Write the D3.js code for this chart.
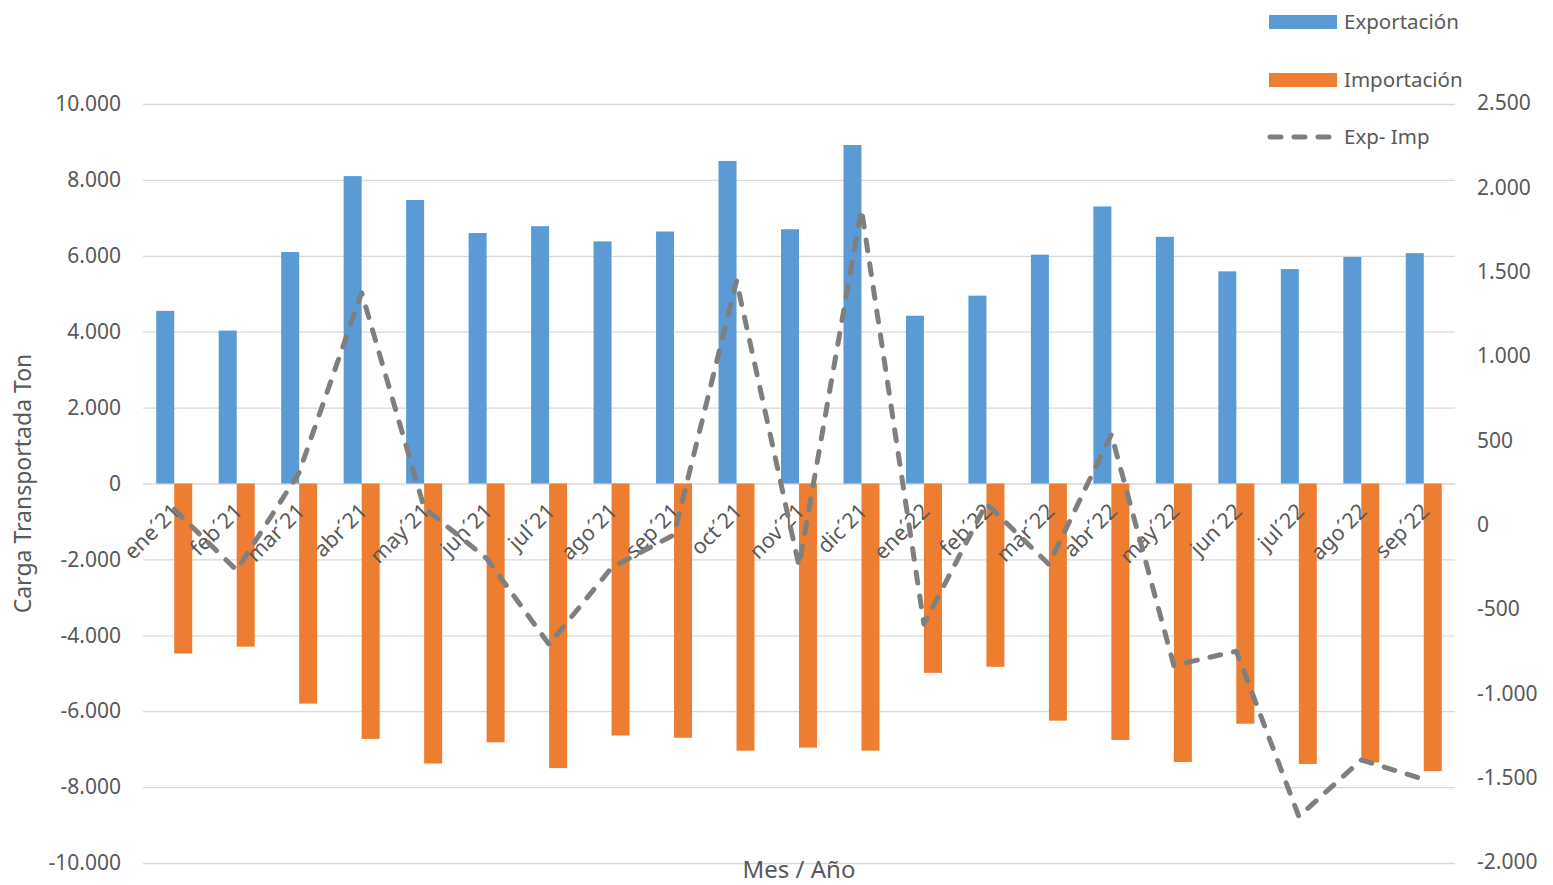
<!DOCTYPE html>
<html>
<head>
<meta charset="utf-8">
<script src="https://cdn.jsdelivr.net/npm/d3@7"></script>
<style>
    body { margin: 0; background: #fff; }
    svg { font-family: "Noto Sans", "Open Sans", sans-serif; }
</style>
</head>
<body>
<svg id="chart" width="1553" height="885"></svg>
<script>
// months on the category axis
let months = ["ene´21", "feb´21", "mar´21", "abr´21", "may´21", "jun´21", "jul´21", "ago´21", "sep´21",
    "oct´21", "nov´21", "dic´21", "ene´22", "feb´22", "mar´22", "abr´22", "may´22", "jun´22", "jul´22",
    "ago´22", "sep´22"];

// exportación (ton), left axis
let exportacion = [4550, 4030, 6100, 8100, 7470, 6600, 6780, 6380, 6640, 8500, 6700, 8920,
    4420, 4950, 6030, 7300, 6500, 5590, 5650, 5970, 6070];

// importación (ton), left axis
let importacion = [-4480, -4300, -5800, -6730, -7380, -6820, -7500, -6640, -6700, -7040, -6960, -7040,
    -4990, -4830, -6250, -6760, -7340, -6330, -7390, -7350, -7580];

// exp - imp, right axis
let expImp = [90, -270, 310, 1375, 100, -200, -710, -255, -60, 1445, -245, 1870,
    -590, 125, -235, 535, -835, -750, -1730, -1395, -1510];

let leftTicks = [-10000, -8000, -6000, -4000, -2000, 0, 2000, 4000, 6000, 8000, 10000];
let rightTicks = [-2000, -1500, -1000, -500, 0, 500, 1000, 1500, 2000, 2500];

let config = {
    width: 1553,
    height: 885,
    left: 143,
    right: 1455,
    top: 104,
    bottom: 863,
    blue: "#5b9bd5",
    orange: "#ed7d31",
    lineColor: "#7f7f7f",
    textColor: "#595959",
    gridColor: "#d9d9d9"
};

let svg = d3.select("#chart");

// es-style thousands, plain hyphen for negatives
let fmt = (v) => d3.format(",")(v).replace(/,/g, ".").replace("\u2212", "-");

let x0 = d3.scaleBand()
    .domain(months)
    .range([config.left, config.right])
    .paddingInner(0.424)
    .paddingOuter(0.212);

let x1 = d3.scaleBand()
    .domain(["exp", "imp"])
    .range([0, x0.bandwidth()]);

let yLeft = d3.scaleLinear()
    .domain([-10000, 10000])
    .range([config.bottom, config.top]);

let yRight = d3.scaleLinear()
    .domain([-2000, 2500])
    .range([config.bottom - 1, config.top - 1]);

// gridlines
let grid = d3.axisLeft(yLeft)
    .tickValues(leftTicks)
    .tickSize(-(config.right - config.left))
    .tickFormat("");

svg.append("g")
    .attr("transform", `translate(${config.left},0)`)
    .call(grid)
    .call((g) => g.select(".domain").remove())
    .call((g) => g.selectAll("line").attr("stroke", config.gridColor).attr("stroke-width", 1.3));

// left axis labels
svg.append("g")
    .attr("transform", `translate(${config.left},0)`)
    .call(d3.axisLeft(yLeft).tickValues(leftTicks).tickSize(0).tickPadding(22).tickFormat(fmt))
    .call((g) => g.select(".domain").remove())
    .call((g) => g.selectAll("text")
        .attr("fill", config.textColor)
        .style("font-size", "21px")
        .style("font-family", "Noto Sans"));

// right axis labels
svg.append("g")
    .attr("transform", `translate(${config.right},0)`)
    .call(d3.axisRight(yRight).tickValues(rightTicks).tickSize(0).tickPadding(22).tickFormat(fmt))
    .call((g) => g.select(".domain").remove())
    .call((g) => g.selectAll("text")
        .attr("fill", config.textColor)
        .style("font-size", "21px")
        .style("font-family", "Noto Sans"));

// bars
let groups = svg.append("g")
    .selectAll("g")
    .data(months)
    .enter().append("g")
    .attr("transform", (d) => `translate(${x0(d)},0)`);

groups.append("rect")
    .attr("x", x1("exp"))
    .attr("width", x1.bandwidth())
    .attr("y", (d, i) => yLeft(exportacion[i]))
    .attr("height", (d, i) => yLeft(0) - yLeft(exportacion[i]))
    .attr("fill", config.blue);

groups.append("rect")
    .attr("x", x1("imp"))
    .attr("width", x1.bandwidth())
    .attr("y", yLeft(0))
    .attr("height", (d, i) => yLeft(importacion[i]) - yLeft(0))
    .attr("fill", config.orange);

// category labels
svg.append("g")
    .selectAll("text")
    .data(months)
    .enter().append("text")
    .attr("transform", (d) => `translate(${x0(d) + x0.bandwidth() / 2 + 7},${yLeft(0) + 29}) rotate(-45)`)
    .attr("text-anchor", "end")
    .attr("fill", config.textColor)
    .style("font-size", "21.5px")
    .text((d) => d);

// exp - imp line
let line = d3.line()
    .x((d, i) => x0(months[i]) + x0.bandwidth() / 2)
    .y((d) => yRight(d));

svg.append("path")
    .datum(expImp)
    .attr("d", line)
    .attr("fill", "none")
    .attr("stroke", config.lineColor)
    .attr("stroke-width", 5)
    .attr("stroke-dasharray", "11,13")
    .attr("stroke-linecap", "round")
    .attr("stroke-linejoin", "round");

// axis titles
svg.append("text")
    .attr("transform", `translate(31,${yLeft(0)}) rotate(-90)`)
    .attr("text-anchor", "middle")
    .attr("fill", config.textColor)
    .style("font-size", "23px")
    .text("Carga Transportada Ton");

svg.append("text")
    .attr("x", 799)
    .attr("y", 878)
    .attr("text-anchor", "middle")
    .attr("fill", config.textColor)
    .style("font-size", "24px")
    .text("Mes / Año");

// legend
let legend = svg.append("g");
let legendItems = [
    {name: "Exportación", type: "rect", color: config.blue, y: 22},
    {name: "Importación", type: "rect", color: config.orange, y: 80},
    {name: "Exp- Imp", type: "line", color: config.lineColor, y: 137}
];

legendItems.forEach((d) => {
    if (d.type === "rect") {
        legend.append("rect")
            .attr("x", 1269)
            .attr("y", d.y - 7)
            .attr("width", 68)
            .attr("height", 14)
            .attr("fill", d.color);
    } else {
        legend.append("line")
            .attr("x1", 1270)
            .attr("x2", 1333)
            .attr("y1", d.y)
            .attr("y2", d.y)
            .attr("stroke", d.color)
            .attr("stroke-width", 5)
            .attr("stroke-dasharray", "11,13")
            .attr("stroke-linecap", "round");
    }
    legend.append("text")
        .attr("x", 1344)
        .attr("y", d.y)
        .attr("dy", "0.35em")
        .attr("fill", config.textColor)
        .style("font-size", "20.5px")
        .text(d.name);
});
</script>
</body>
</html>
